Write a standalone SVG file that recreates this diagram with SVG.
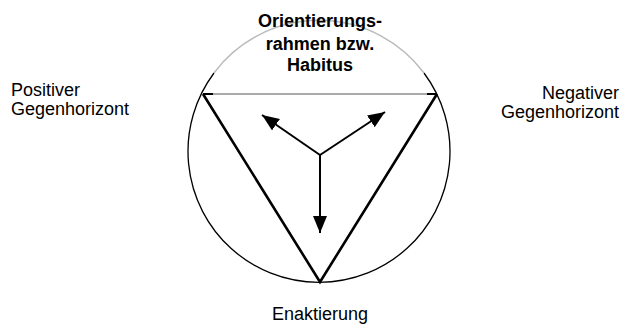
<svg xmlns="http://www.w3.org/2000/svg" width="623" height="325" viewBox="0 0 623 325">
<style>
text{font-family:"Liberation Sans",Arial,sans-serif;font-size:18px;fill:#000}
.b{font-weight:bold}
.tri{fill:none;stroke:#000;stroke-width:2.6;stroke-linejoin:miter}
.arr{fill:none;stroke:#000;stroke-width:2}
</style>
<defs>
<marker id="ah" markerUnits="userSpaceOnUse" markerWidth="18" markerHeight="16" refX="17" refY="7" orient="auto">
<path d="M0,0 L17,7 L0,14 Z" fill="#000"/>
</marker>
</defs>
<rect width="623" height="325" fill="#fff"/>
<g id="circle">
<path d="M214,73 A131,131 0 1 0 424,73" fill="none" stroke="#000" stroke-width="1.3"/>
<path d="M214,73 A131,131 0 0 1 424,73" fill="none" stroke="#bbb" stroke-width="1.5"/>
</g>
<g id="triangle">
<line x1="203" y1="94" x2="437" y2="94" stroke="#aaa" stroke-width="2"/>
<line x1="203" y1="94" x2="213" y2="94" stroke="#000" stroke-width="2"/>
<line x1="427" y1="94" x2="437" y2="94" stroke="#000" stroke-width="2"/>
<path class="tri" d="M203,94 L320,282 L437,94"/>
</g>
<g id="connectors">
<line class="arr" x1="320" y1="155" x2="262" y2="115" marker-end="url(#ah)"/>
<line class="arr" x1="320" y1="155" x2="385" y2="112" marker-end="url(#ah)"/>
<line class="arr" x1="320" y1="155" x2="320" y2="233" marker-end="url(#ah)"/>
</g>
<g id="orientierungsrahmen">
<text class="b" x="320" y="27" text-anchor="middle">Orientierungs-</text>
<text class="b" x="320" y="50" text-anchor="middle">rahmen bzw.</text>
<text class="b" x="320" y="71" text-anchor="middle">Habitus</text>
</g>
<g id="positiver">
<text x="11" y="96">Positiver</text>
<text x="11" y="115">Gegenhorizont</text>
</g>
<g id="negativer">
<text x="619" y="99" text-anchor="end">Negativer</text>
<text x="619" y="118" text-anchor="end">Gegenhorizont</text>
</g>
<g id="enaktierung">
<text x="320" y="320" text-anchor="middle">Enaktierung</text>
</g>
</svg>
